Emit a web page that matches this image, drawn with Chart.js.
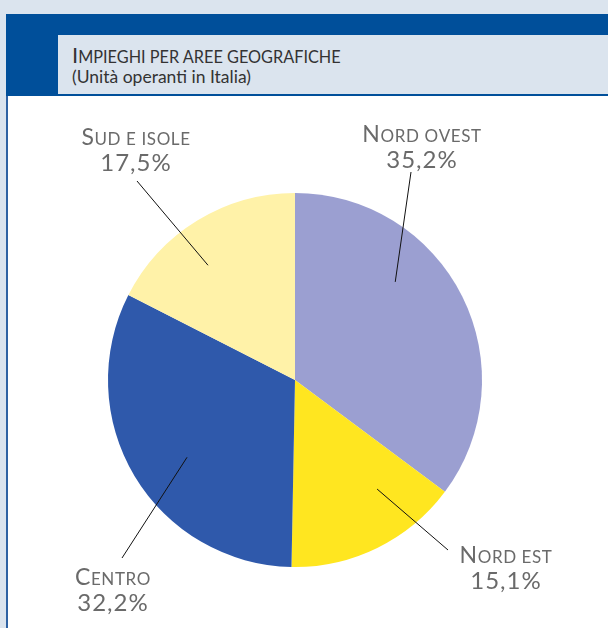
<!DOCTYPE html>
<html>
<head>
<meta charset="utf-8">
<script src="https://cdn.jsdelivr.net/npm/chart.js@4/dist/chart.umd.min.js"></script>
<style>
  html, body { margin: 0; padding: 0; }
  body { width: 608px; height: 628px; background: #dbe4ee; position: relative; overflow: hidden; font-family: Lato, "Open Sans", sans-serif; }
  #band { position: absolute; left: 6px; top: 14px; width: 602px; height: 82px; background: #004f9a; }
  #head { position: absolute; left: 58px; top: 35px; width: 550px; height: 59px; background: #dbe4ee; }
  #title { position: absolute; left: 14px; top: 6px; font-size: 16.3px; color: #333; white-space: nowrap; }
  #title b { font-weight: normal; font-size: 22px; }
  #sub { position: absolute; left: 14px; top: 31px; font-size: 17.5px; color: #333; white-space: nowrap; }
  #panel { position: absolute; left: 6px; top: 96px; width: 600px; height: 532px; background: #fff; border-left: 2px solid #2f62a3; }
  #pie { position: absolute; left: 0; top: 0; }
</style>
</head>
<body>
<div id="band"></div>
<div id="head">
  <div id="title"><b>I</b>MPIEGHI PER AREE GEOGRAFICHE</div>
  <div id="sub">(Unità operanti in Italia)</div>
</div>
<div id="panel"><canvas id="pie" width="600" height="532"></canvas></div>
<script>
const REGIONS = [ 'Nord ovest', 'Nord est', 'Centro', 'Sud e isole' ];
const SHARES = [ 35.2, 15.1, 32.2, 17.5 ];
const SHARE_LABELS = [ '35,2%', '15,1%', '32,2%', '17,5%' ];
const COLOURS = [ '#9b9fd1', '#ffe620', '#2f59ab', '#fff2a8' ];

// where each callout sits: text centre / baselines, leader line anchor
const callouts = [
  { x: 414, y: 46, lineTo: [403, 76], angle: 0.36, depth: 0.75 },
  { x: 498, y: 467, lineTo: [440, 454], angle: 0.30, depth: 0.73 },
  { x: 105, y: 489, lineTo: [114, 462], angle: 0.46, depth: 0.71 },
  { x: 128, y: 49, lineTo: [129, 85], angle: 0.41, depth: 0.77 },
];

let smallCaps = function(ctx, text, cx, y, big, small) {
  let parts = [];
  for (let ch of text) {
    let up = ch === ch.toUpperCase() && ch !== ' ';
    parts.push({ t: ch.toUpperCase(), size: up ? big : small });
  }
  let width = 0;
  for (let p of parts) {
    ctx.font = p.size + 'px Lato, "Open Sans", sans-serif';
    p.w = ctx.measureText(p.t).width + 0.6;
    width += p.w;
  }
  let x = cx - width / 2;
  ctx.textAlign = 'left';
  for (let p of parts) {
    ctx.font = p.size + 'px Lato, "Open Sans", sans-serif';
    ctx.fillText(p.t, x, y);
    x += p.w;
  }
};

let calloutPlugin = {
  id: 'callouts',
  afterDatasetsDraw(chart) {
    let ctx = chart.ctx;
    let arcs = chart.getDatasetMeta(0).data;
    ctx.save();
    for (let i in callouts) {
      let c = callouts[i];
      let arc = arcs[i];
      let a = arc.startAngle + (arc.endAngle - arc.startAngle) * c.angle;
      let r = arc.outerRadius * c.depth;
      ctx.beginPath();
      ctx.moveTo(arc.x + Math.cos(a) * r, arc.y + Math.sin(a) * r);
      ctx.lineTo(c.lineTo[0], c.lineTo[1]);
      ctx.strokeStyle = '#111';
      ctx.lineWidth = 1;
      ctx.stroke();

      ctx.fillStyle = '#6a6a6a';
      ctx.textBaseline = 'alphabetic';
      ctx.letterSpacing = '0px';
      smallCaps(ctx, REGIONS[i], c.x, c.y, 23, 17);
      ctx.font = '24px Lato, "Open Sans", sans-serif';
      ctx.letterSpacing = '1px';
      ctx.textAlign = 'center';
      ctx.fillText(SHARE_LABELS[i], c.x, c.y + 26);
    }
    ctx.restore();
  }
};

new Chart(document.getElementById('pie').getContext('2d'), {
  type: 'pie',
  data: {
    labels: REGIONS,
    datasets: [{ data: SHARES, backgroundColor: COLOURS, borderWidth: 0 }],
  },
  options: {
    responsive: false,
    animation: false,
    layout: { padding: { left: 100, right: 126, top: 97, bottom: 61 } },
    plugins: { legend: { display: false }, tooltip: { enabled: false } },
  },
  plugins: [calloutPlugin],
});
</script>
</body>
</html>
